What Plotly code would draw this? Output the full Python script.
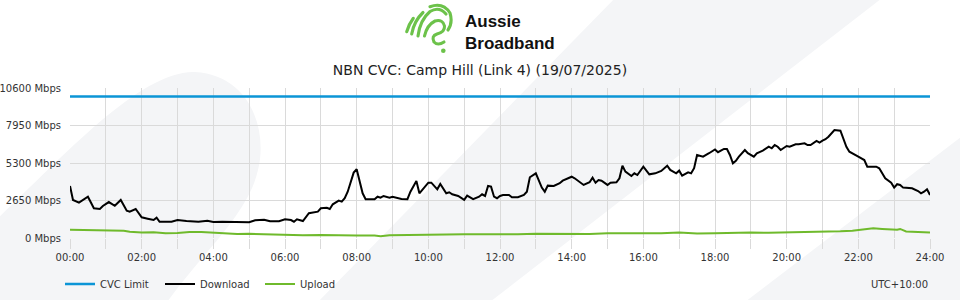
import base64
import plotly.graph_objects as go

# ---------------- data ----------------
dl_minutes = [0, 5, 15, 20, 30, 40, 50, 55, 65, 75, 85, 95, 100, 110, 120, 130, 140, 145, 150, 170,
              180, 195, 215, 230, 240, 255, 270, 290, 300, 310, 325, 335, 350, 360, 370, 375, 380, 390, 395, 400,
              415, 420, 430, 435, 440, 450, 455, 460, 465, 475, 480, 485, 490, 495, 510, 515, 520, 525, 535, 540,
              555, 565, 570, 580, 585, 600, 605, 615, 620, 630, 635, 640, 650, 660, 665, 675, 685, 690, 695, 700,
              705, 710, 715, 720, 725, 735, 740, 750, 760, 765, 770, 780, 785, 790, 795, 800, 810, 820, 825, 830,
              840, 845, 855, 860, 870, 875, 880, 885, 890, 900, 905, 915, 920, 925, 930, 940, 945, 950, 960, 970,
              980, 990, 1000, 1005, 1015, 1020, 1025, 1035, 1040, 1045, 1050, 1060, 1070, 1080, 1085, 1095, 1100, 1105, 1110, 1115,
              1120, 1130, 1135, 1145, 1150, 1155, 1160, 1170, 1175, 1180, 1185, 1190, 1195, 1200, 1205, 1215, 1220, 1230, 1235, 1240,
              1250, 1255, 1260, 1265, 1270, 1275, 1280, 1290, 1295, 1300, 1305, 1310, 1315, 1320, 1330, 1335, 1350, 1355, 1360, 1365,
              1375, 1380, 1385, 1390, 1395, 1405, 1410, 1420, 1425, 1430, 1435, 1440]
download_mbps = [3680, 2690, 2500, 2640, 2920, 2100, 2050, 2260, 2540, 2280, 2690, 1930, 1860, 2050, 1460, 1360, 1270, 1440, 1150, 1150,
                 1270, 1200, 1150, 1220, 1130, 1150, 1130, 1110, 1110, 1250, 1290, 1180, 1180, 1320, 1270, 1150, 1320, 1200, 1500, 1750,
                 1860, 2100, 2140, 2050, 2380, 2640, 2570, 2810, 3270, 4620, 4860, 4100, 3160, 2740, 2740, 2920, 2850, 2970, 2850, 2920,
                 2760, 2740, 3270, 4030, 3160, 3910, 3910, 3440, 3820, 3160, 3230, 3090, 2970, 2690, 2990, 2740, 2920, 3090, 2970, 3680,
                 3630, 2920, 2810, 2970, 3040, 3040, 2880, 2880, 3040, 3270, 4290, 4570, 4100, 3560, 3270, 3700, 3680, 3870, 4050, 4150,
                 4330, 4220, 3910, 3750, 3940, 4260, 3910, 4100, 4050, 3750, 3910, 3940, 4220, 5110, 4690, 4380, 4570, 4450, 5040, 4500,
                 4570, 4740, 5110, 4810, 4570, 4760, 4400, 4640, 4570, 4930, 5870, 5750, 5990, 6260, 6060, 6290, 6290, 5870, 5280, 5460,
                 5750, 6220, 5990, 5750, 5990, 6060, 6170, 6450, 6340, 6570, 6450, 6220, 6380, 6500, 6450, 6620, 6620, 6690, 6570, 6570,
                 6860, 6740, 6880, 6980, 7160, 7400, 7630, 7580, 7050, 6450, 6100, 5990, 5920, 5750, 5510, 5040, 5040, 4930, 4570, 4220,
                 3910, 3560, 3800, 3750, 3560, 3510, 3510, 3320, 3160, 3270, 3440, 3040]

ul_minutes = [0, 20, 45, 60, 70, 90, 100, 120, 140, 160, 180, 200, 220, 240, 260, 280, 300, 330, 360, 390,
              420, 450, 480, 510, 520, 535, 560, 600, 630, 660, 690, 720, 750, 780, 810, 840, 870, 900, 930, 960,
              990, 1020, 1050, 1080, 1110, 1140, 1170, 1200, 1230, 1260, 1290, 1310, 1320, 1335, 1345, 1360, 1375, 1385, 1390, 1400,
              1420, 1440]
upload_mbps = [580, 560, 560, 540, 500, 510, 440, 390, 410, 330, 350, 430, 420, 380, 300, 290, 300, 250, 230, 200,
               220, 180, 170, 170, 130, 200, 200, 230, 240, 260, 250, 280, 270, 300, 280, 300, 290, 330, 320, 330,
               330, 380, 320, 340, 370, 380, 370, 400, 420, 410, 480, 520, 560, 650, 690, 640, 610, 580, 640, 460,
               420, 380]

cvc_minutes = [0, 1440]
cvc_limit_mbps = [10000, 10000]

y_max = 10600
y_ticks = [0, 2650, 5300, 7950, 10600]
x_tick_hours = [0, 2, 4, 6, 8, 10, 12, 14, 16, 18, 20, 22, 24]
x_tick_labels = ["00:00", "02:00", "04:00", "06:00", "08:00", "10:00", "12:00",
                 "14:00", "16:00", "18:00", "20:00", "22:00", "24:00"]

title_text = "NBN CVC: Camp Hill (Link 4) (19/07/2025)"
brand_lines = ["Aussie", "Broadband"]
tz_text = "UTC+10:00"

# ---------------- styles ----------------
FONT = "DejaVu Sans"
BLUE = "#0b95d6"
GREEN = "#6fba2c"
GRID = "#dadada"
BGSHAPE = "#f4f5f7"
W, H = 960, 300
L, R, T, B = 70, 30, 88, 62


def P(x, y):
    return (x - L) / (W - L - R), (H - B - y) / (H - T - B)


def path(cmds):
    out = []
    for c in cmds:
        if isinstance(c, str):
            out.append(c)
        else:
            px, py = P(*c)
            out.append(f"{px:.5f},{py:.5f}")
    return " ".join(out)


fig = go.Figure()
fig.add_trace(go.Scatter(x=[m / 60 for m in cvc_minutes], y=cvc_limit_mbps, name="CVC Limit",
                         mode="lines", line=dict(color=BLUE, width=2.5)))
fig.add_trace(go.Scatter(x=[m / 60 for m in dl_minutes], y=download_mbps, name="Download",
                         mode="lines", line=dict(color="#000000", width=2)))
fig.add_trace(go.Scatter(x=[m / 60 for m in ul_minutes], y=upload_mbps, name="Upload",
                         mode="lines", line=dict(color=GREEN, width=2)))

shapes = [
    dict(type="path", xref="paper", yref="paper", layer="below", fillcolor=BGSHAPE, line=dict(width=0),
         path=path(["M", (-5, 221), "C", (60, 160), (140, 70), (195, 72), "C", (250, 75), (268, 130), (258, 170),
                    "C", (248, 215), (200, 255), (165, 305), "L", (-5, 305), "Z"])),
    dict(type="path", xref="paper", yref="paper", layer="below", fillcolor=BGSHAPE, line=dict(width=0),
         path=path(["M", (315, 305), "L", (618, -5), "L", (886, -5), "L", (486, 305), "Z"])),
    dict(type="path", xref="paper", yref="paper", layer="below", fillcolor=BGSHAPE, line=dict(width=0),
         path=path(["M", (741, 305), "L", (965, 134), "L", (965, 305), "Z"])),
]

swirl_svg = """<svg xmlns='http://www.w3.org/2000/svg' width='52' height='52' viewBox='0 0 52 52'>
<g fill='none' stroke='#6cc24a' stroke-width='3.1' stroke-linecap='round' stroke-linejoin='round'>
<path d='M4.7,29.7 Q7,22 11.3,16.3'/>
<path d='M9.7,32 Q12,19 21,10.5'/>
<path d='M16,34 Q18,18 28,9.5 Q37,4 44,12'/>
<path d='M28,4.7 Q41,0 48,11 Q51,21 46,28'/>
<path d='M22.5,34 Q25,23 33,19 Q41,17 42.5,24 Q43,30 35,32 Q29,34 32,40 Q36,44 42,40'/>
</g>
<circle cx='41.3' cy='48.7' r='2.3' fill='#6cc24a'/>
</svg>"""
swirl_uri = "data:image/svg+xml;base64," + base64.b64encode(swirl_svg.encode()).decode()
ix, iy = P(402, 2)

annotations = [
    dict(text="<b>" + "<br>".join(brand_lines) + "</b>", x=P(463, 33)[0], y=P(463, 33)[1],
         xref="paper", yref="paper", xanchor="left", yanchor="middle", align="left", showarrow=False,
         font=dict(family="Liberation Sans", size=17, color="#111111")),
    dict(text=tz_text, x=1, y=P(930, 284)[1], xref="paper", yref="paper", xanchor="right", yanchor="middle",
         showarrow=False, font=dict(family=FONT, size=10, color="#333333")),
]

fig.update_layout(
    width=W, height=H,
    margin=dict(l=L, r=R, t=T, b=B, pad=0, autoexpand=False),
    paper_bgcolor="#ffffff",
    plot_bgcolor="rgba(0,0,0,0)",
    font=dict(family=FONT, size=10, color="#333333"),
    title=dict(text=title_text, x=480 / W, xref="container", xanchor="center",
               y=1 - 70 / H, yref="container", yanchor="middle",
               font=dict(family=FONT, size=14, color="#222222")),
    showlegend=True,
    legend=dict(orientation="h", xref="container", yref="container", x=60 / W, xanchor="left",
                y=1 - 284 / H, yanchor="middle", entrywidth=55, entrywidthmode="pixels",
                font=dict(family=FONT, size=10, color="#333333"), bgcolor="rgba(0,0,0,0)",
                traceorder="normal"),
    xaxis=dict(range=[0, 24], tickmode="array", tickvals=x_tick_hours, ticktext=x_tick_labels,
               showgrid=True, gridcolor=GRID, gridwidth=1, zeroline=False, showline=False,
               ticks="outside", ticklen=10, tickcolor=GRID, tickwidth=1, automargin=False,
               tickfont=dict(family=FONT, size=10, color="#333333"),
               minor=dict(dtick=1, tick0=0, showgrid=True, gridcolor=GRID, gridwidth=1,
                          ticks="outside", ticklen=10, tickcolor=GRID, tickwidth=1),
               fixedrange=True),
    yaxis=dict(range=[0, y_max], tickmode="array", tickvals=y_ticks,
               ticktext=[f"{v} Mbps" for v in y_ticks], automargin=False,
               showgrid=True, gridcolor=GRID, gridwidth=1, zeroline=False, showline=False,
               ticks="outside", ticklen=6, tickcolor="rgba(0,0,0,0)",
               tickfont=dict(family=FONT, size=10, color="#333333"), fixedrange=True),
    shapes=shapes,
    annotations=annotations,
    images=[dict(source=swirl_uri, xref="paper", yref="paper", x=ix, y=iy, sizex=52 / 860, sizey=52 / 150,
                 xanchor="left", yanchor="top", sizing="stretch", layer="above")],
)

fig.write_html("out.html")
